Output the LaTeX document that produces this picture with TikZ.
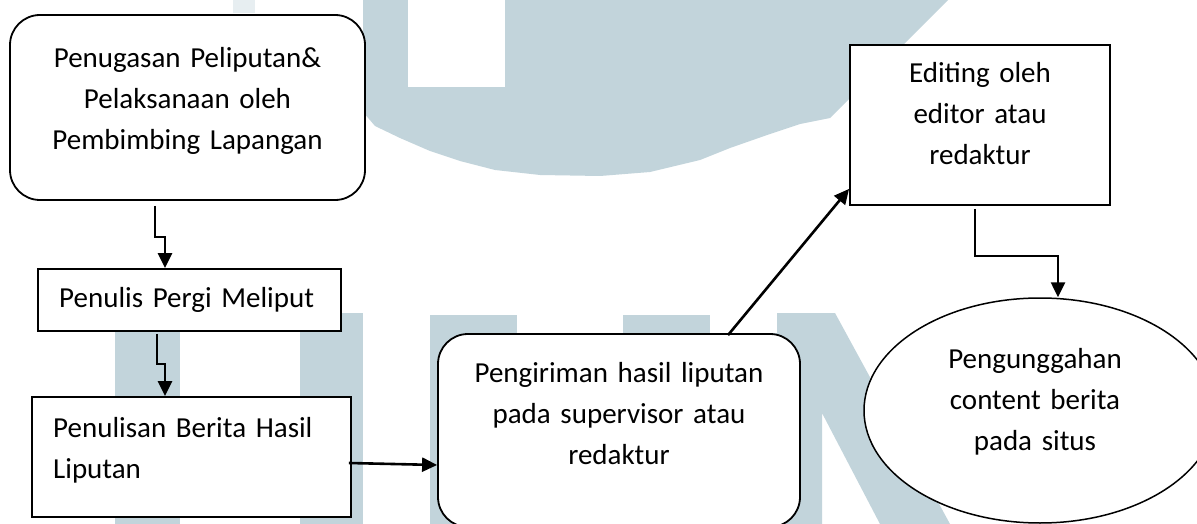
\documentclass[tikz,border=0pt]{standalone}
\usepackage{fontspec}
\setmainfont{Carlito}
\usetikzlibrary{arrows.meta,calc,shapes.geometric}
\definecolor{wm}{RGB}{194,212,219}
\begin{document}
\begin{tikzpicture}[x=1pt,y=-1pt,font=\fontsize{29}{41}\selectfont,
  box/.style={draw,line width=1.8pt,fill=white,inner sep=0pt,minimum width=#1},
  rbox/.style={box=#1,rounded corners=30pt},
  txt/.style={inner sep=0pt,text width=#1,align=center,anchor=base},
  ltxt/.style={inner sep=0pt,text width=#1,align=left,anchor=base west},
  arr/.style={line width=2.6pt,-{Triangle[length=15pt,width=14pt]}}]
\useasboundingbox (0,0) rectangle (1197,524);
\fill[white] (0,0) rectangle (1197,524);
% watermark
\fill[wm] (363,0) -- (948,0) -- (830,118) -- (800,124) -- (770,134) -- (730,148) -- (700,160) -- (650,172) -- (600,176) -- (540,175) -- (495,170) -- (460,161) -- (430,151) -- (400,138) -- (375,126) -- (363,112) -- cycle;
\fill[white] (408,0) rectangle (505,87);
\fill[wm!40] (233,0) rectangle (255,13);
\fill[wm] (115,313) rectangle (180,524);
\fill[wm] (300,313) rectangle (363,524);
\fill[wm] (430,333) rectangle (800,524);
\fill[wm] (430,315) rectangle (517,333);
\fill[wm] (623,315) rectangle (710,333);
\fill[wm] (777,313) -- (835,313) -- (950,524) -- (880,524) -- (822,413) -- (822,524) -- (777,524) -- cycle;
% shapes
\node[rbox=355pt,minimum height=185pt] (b1) at (187.5,107.5) {};
\node[box=303pt,minimum height=62pt] (b2) at (189.5,300) {};
\node[box=319pt,minimum height=120pt] (b3) at (191.5,457) {};
\node[rbox=362pt,minimum height=193pt] (b4) at (619,430.5) {};
\node[box=260pt,minimum height=160pt] (b5) at (980,125) {};
\node[draw,ellipse,line width=1.5pt,fill=white,inner sep=0pt,minimum width=352pt,minimum height=225pt] (el) at (1040,410.5) {};
% texts
\node[txt=340pt] (t1) at (187.5,68) {Penugasan Peliputan\&\\Pelaksanaan oleh\\Pembimbing Lapangan};
\node[ltxt=280pt] (t2) at (59,307) {Penulis Pergi Meliput};
\node[ltxt=290pt] (t3) at (53,437) {Penulisan Berita Hasil\\Liputan};
\node[txt=350pt] (t4) at (619,382) {Pengiriman hasil liputan\\pada supervisor atau\\redaktur};
\node[txt=250pt] (t5) at (980,83) {Editing oleh\\editor atau\\redaktur};
\node[txt=250pt] (t6) at (1035,368) {Pengunggahan\\content berita\\pada situs};
% connectors
\draw[arr] ($(b1.south)+(-32.5,5)$) -- ++(0,31) -| ($(b2.north)+(-24.5,0)$);
\draw[arr] ($(b2.south)+(-32.5,2)$) -- ++(0,30) -| ($(b3.north)+(-26.5,0)$);
\draw[arr] ($(b3.east)+(-3,6)$) -- ($(b4.west)+(0,34.5)$);
\draw[arr] ($(b4.north)+(109,2)$) -- ($(b5.south west)+(0,-17)$);
\draw[arr] ($(b5.south)+(-5,3)$) -- ++(0,47) -| ($(el.north)+(18,0)$);
\end{tikzpicture}
\end{document}
